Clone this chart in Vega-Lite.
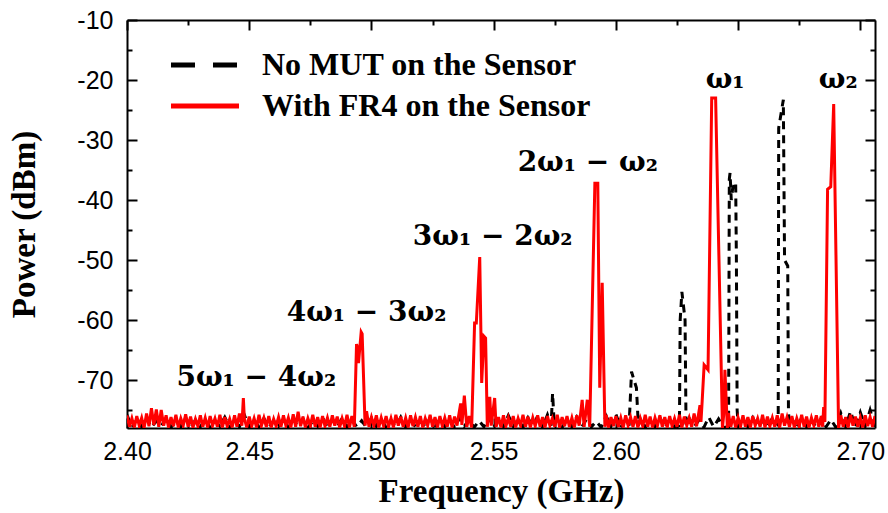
{
  "$schema": "https://vega.github.io/schema/vega-lite/v6.json",
  "width": 748,
  "height": 408,
  "autosize": {"type": "none"},
  "padding": {"left": 127, "top": 20, "right": 13, "bottom": 85},
  "background": "white",
  "config": {
    "view": {"stroke": null},
    "axis": {"domainColor": "black", "domainWidth": 2, "tickColor": "black", "tickWidth": 2, "labelFont": "Liberation Sans", "labelFontSize": 25, "labelColor": "black", "grid": false, "zindex": 1, "labelOverlap": false, "labelBound": false, "labelFlush": false, "titleFont": "Liberation Serif", "titleFontWeight": "bold", "titleFontSize": 33, "titleColor": "black"}
  },
  "datasets": {
    "mut": [
      {"f":2.400,"p":-75.8},{"f":2.402,"p":-77.9},{"f":2.404,"p":-76.6},{"f":2.406,"p":-77.8},{"f":2.408,"p":-76.2},{"f":2.410,"p":-77.9},{"f":2.412,"p":-76.8},{"f":2.414,"p":-77.7},{"f":2.416,"p":-76.4},{"f":2.418,"p":-77.9},
      {"f":2.420,"p":-76.9},{"f":2.422,"p":-77.8},{"f":2.424,"p":-76.3},{"f":2.426,"p":-77.9},{"f":2.428,"p":-76.7},{"f":2.430,"p":-77.8},{"f":2.432,"p":-76.5},{"f":2.434,"p":-77.9},{"f":2.436,"p":-76.8},{"f":2.438,"p":-77.7},
      {"f":2.440,"p":-76.2},{"f":2.442,"p":-77.9},{"f":2.444,"p":-76.6},{"f":2.446,"p":-77.8},{"f":2.448,"p":-75.8},{"f":2.450,"p":-77.9},{"f":2.452,"p":-76.7},{"f":2.454,"p":-77.8},{"f":2.456,"p":-76.4},{"f":2.458,"p":-77.9},
      {"f":2.460,"p":-76.8},{"f":2.462,"p":-77.7},{"f":2.464,"p":-76.3},{"f":2.466,"p":-77.9},{"f":2.468,"p":-76.6},{"f":2.470,"p":-77.8},{"f":2.472,"p":-76.5},{"f":2.474,"p":-77.9},{"f":2.476,"p":-76.9},{"f":2.478,"p":-77.7},
      {"f":2.480,"p":-76.2},{"f":2.482,"p":-77.9},{"f":2.484,"p":-76.7},{"f":2.486,"p":-77.8},{"f":2.488,"p":-76.4},{"f":2.490,"p":-77.9},{"f":2.492,"p":-76.6},{"f":2.494,"p":-77.8},{"f":2.496,"p":-76.8},{"f":2.498,"p":-77.9},
      {"f":2.500,"p":-76.3},{"f":2.502,"p":-77.7},{"f":2.504,"p":-76.5},{"f":2.506,"p":-77.9},{"f":2.508,"p":-76.7},{"f":2.510,"p":-77.8},{"f":2.512,"p":-76.2},{"f":2.514,"p":-77.9},{"f":2.516,"p":-76.6},{"f":2.518,"p":-77.8},
      {"f":2.520,"p":-76.9},{"f":2.522,"p":-77.7},{"f":2.524,"p":-76.4},{"f":2.526,"p":-77.9},{"f":2.528,"p":-76.5},{"f":2.530,"p":-77.8},{"f":2.532,"p":-76.7},{"f":2.534,"p":-77.9},{"f":2.536,"p":-76.3},{"f":2.538,"p":-77.7},
      {"f":2.540,"p":-76.6},{"f":2.542,"p":-77.9},{"f":2.544,"p":-76.8},{"f":2.546,"p":-77.8},{"f":2.548,"p":-76.2},{"f":2.550,"p":-77.9},{"f":2.552,"p":-76.5},{"f":2.554,"p":-77.8},{"f":2.556,"p":-75.9},{"f":2.558,"p":-77.7},
      {"f":2.560,"p":-76.6},{"f":2.562,"p":-77.9},{"f":2.564,"p":-76.3},{"f":2.566,"p":-77.8},{"f":2.568,"p":-76.0},{"f":2.570,"p":-77.9},{"f":2.572,"p":-75.8},{"f":2.5735,"p":-77.6},{"f":2.5741,"p":-72.2},{"f":2.5748,"p":-77.5},
      {"f":2.576,"p":-76.4},{"f":2.578,"p":-77.9},{"f":2.580,"p":-76.7},{"f":2.582,"p":-77.8},{"f":2.584,"p":-76.2},{"f":2.586,"p":-77.9},{"f":2.588,"p":-76.5},{"f":2.590,"p":-77.8},{"f":2.592,"p":-76.9},{"f":2.594,"p":-77.9},
      {"f":2.596,"p":-76.0},{"f":2.598,"p":-77.7},{"f":2.600,"p":-75.7},{"f":2.602,"p":-77.9},{"f":2.604,"p":-76.4},{"f":2.6054,"p":-77.6},{"f":2.6064,"p":-68.6},{"f":2.6074,"p":-70.0},{"f":2.6084,"p":-71.3},{"f":2.6092,"p":-77.6},
      {"f":2.610,"p":-76.5},{"f":2.612,"p":-77.9},{"f":2.614,"p":-76.8},{"f":2.616,"p":-77.8},{"f":2.618,"p":-76.3},{"f":2.620,"p":-77.9},{"f":2.622,"p":-76.6},{"f":2.624,"p":-77.8},
      {"f":2.6260,"p":-77.6},{"f":2.6263,"p":-60.0},{"f":2.6270,"p":-55.3},{"f":2.6283,"p":-60.0},{"f":2.6287,"p":-77.6},
      {"f":2.630,"p":-76.4},{"f":2.632,"p":-77.8},{"f":2.634,"p":-76.7},{"f":2.636,"p":-77.9},{"f":2.638,"p":-76.2},{"f":2.640,"p":-77.8},{"f":2.642,"p":-76.5},{"f":2.644,"p":-77.9},
      {"f":2.6461,"p":-77.8},{"f":2.6464,"p":-36.5},{"f":2.6467,"p":-35.5},{"f":2.6472,"p":-40.0},{"f":2.6478,"p":-38.0},{"f":2.6490,"p":-37.0},{"f":2.6493,"p":-50.0},{"f":2.6496,"p":-75.0},{"f":2.6500,"p":-77.5},
      {"f":2.652,"p":-76.6},{"f":2.654,"p":-77.8},{"f":2.656,"p":-76.3},{"f":2.658,"p":-77.9},{"f":2.660,"p":-76.8},{"f":2.662,"p":-77.7},{"f":2.664,"p":-76.4},
      {"f":2.6664,"p":-77.5},{"f":2.6666,"p":-28.0},{"f":2.6685,"p":-23.3},{"f":2.6690,"p":-50.0},{"f":2.6703,"p":-51.0},{"f":2.6706,"p":-75.0},{"f":2.6709,"p":-77.5},
      {"f":2.672,"p":-76.5},{"f":2.674,"p":-77.9},{"f":2.676,"p":-76.2},{"f":2.678,"p":-77.8},{"f":2.680,"p":-76.7},{"f":2.682,"p":-77.9},{"f":2.684,"p":-76.4},{"f":2.686,"p":-77.8},{"f":2.688,"p":-76.6},{"f":2.690,"p":-77.9},
      {"f":2.692,"p":-75.5},{"f":2.694,"p":-77.8},{"f":2.696,"p":-75.2},{"f":2.698,"p":-77.9},{"f":2.700,"p":-75.4},{"f":2.702,"p":-77.7},{"f":2.704,"p":-75.0},{"f":2.706,"p":-77.8}
    ],
    "fr4": [
      {"f":2.400,"p":-75.9},{"f":2.401,"p":-77.8},{"f":2.402,"p":-76.4},{"f":2.403,"p":-77.9},{"f":2.404,"p":-76.0},{"f":2.405,"p":-77.6},{"f":2.406,"p":-76.3},{"f":2.407,"p":-78.0},{"f":2.408,"p":-75.6},{"f":2.409,"p":-77.7},
      {"f":2.410,"p":-74.7},{"f":2.411,"p":-77.5},{"f":2.412,"p":-74.9},{"f":2.413,"p":-77.8},{"f":2.414,"p":-75.0},{"f":2.415,"p":-77.6},{"f":2.416,"p":-75.9},{"f":2.417,"p":-77.9},{"f":2.418,"p":-76.2},{"f":2.419,"p":-77.7},
      {"f":2.420,"p":-75.8},{"f":2.421,"p":-77.9},{"f":2.422,"p":-76.4},{"f":2.423,"p":-77.6},{"f":2.424,"p":-75.7},{"f":2.425,"p":-77.8},{"f":2.426,"p":-76.1},{"f":2.427,"p":-77.9},{"f":2.428,"p":-76.5},{"f":2.429,"p":-77.7},
      {"f":2.430,"p":-75.9},{"f":2.431,"p":-77.8},{"f":2.432,"p":-76.3},{"f":2.433,"p":-77.9},{"f":2.434,"p":-76.0},{"f":2.435,"p":-77.6},{"f":2.436,"p":-76.4},{"f":2.437,"p":-77.8},{"f":2.438,"p":-75.8},{"f":2.439,"p":-77.9},
      {"f":2.440,"p":-76.2},{"f":2.441,"p":-77.7},{"f":2.442,"p":-76.5},{"f":2.443,"p":-77.9},{"f":2.444,"p":-75.9},{"f":2.445,"p":-77.8},{"f":2.446,"p":-75.6},{"f":2.447,"p":-77.6},{"f":2.4476,"p":-73.0},{"f":2.448,"p":-76.4},{"f":2.449,"p":-77.9},
      {"f":2.450,"p":-76.1},{"f":2.451,"p":-77.7},{"f":2.452,"p":-76.4},{"f":2.453,"p":-77.9},{"f":2.454,"p":-75.8},{"f":2.455,"p":-77.6},{"f":2.456,"p":-76.3},{"f":2.457,"p":-77.8},{"f":2.458,"p":-76.0},{"f":2.459,"p":-77.9},
      {"f":2.460,"p":-76.5},{"f":2.461,"p":-77.7},{"f":2.462,"p":-76.2},{"f":2.463,"p":-77.8},{"f":2.464,"p":-75.9},{"f":2.465,"p":-77.6},{"f":2.466,"p":-76.3},{"f":2.467,"p":-77.9},{"f":2.468,"p":-75.7},{"f":2.469,"p":-77.8},
      {"f":2.470,"p":-75.3},{"f":2.471,"p":-77.7},{"f":2.472,"p":-76.1},{"f":2.473,"p":-77.9},{"f":2.474,"p":-76.4},{"f":2.475,"p":-77.6},{"f":2.476,"p":-75.8},{"f":2.477,"p":-77.8},{"f":2.478,"p":-76.2},{"f":2.479,"p":-77.9},
      {"f":2.480,"p":-76.0},{"f":2.481,"p":-77.7},{"f":2.482,"p":-76.3},{"f":2.483,"p":-77.8},{"f":2.484,"p":-75.9},{"f":2.485,"p":-77.6},{"f":2.486,"p":-76.1},{"f":2.487,"p":-77.9},{"f":2.488,"p":-76.4},{"f":2.489,"p":-77.7},
      {"f":2.490,"p":-75.8},{"f":2.491,"p":-77.9},{"f":2.492,"p":-76.0},{"f":2.493,"p":-77.8},
      {"f":2.4939,"p":-64.0},{"f":2.4942,"p":-64.5},{"f":2.4947,"p":-67.2},{"f":2.4958,"p":-62.0},{"f":2.4962,"p":-62.3},{"f":2.4974,"p":-77.6},
      {"f":2.498,"p":-75.2},{"f":2.499,"p":-77.8},
      {"f":2.500,"p":-76.2},{"f":2.501,"p":-77.6},{"f":2.502,"p":-75.9},{"f":2.503,"p":-77.9},{"f":2.504,"p":-76.3},{"f":2.505,"p":-77.7},{"f":2.506,"p":-76.0},{"f":2.507,"p":-77.8},{"f":2.508,"p":-76.4},{"f":2.509,"p":-77.9},
      {"f":2.510,"p":-75.8},{"f":2.511,"p":-77.6},{"f":2.512,"p":-76.1},{"f":2.513,"p":-77.8},{"f":2.514,"p":-76.3},{"f":2.515,"p":-77.9},{"f":2.516,"p":-75.9},{"f":2.517,"p":-77.7},{"f":2.518,"p":-76.2},{"f":2.519,"p":-77.8},
      {"f":2.520,"p":-76.0},{"f":2.521,"p":-77.9},{"f":2.522,"p":-76.4},{"f":2.523,"p":-77.6},{"f":2.524,"p":-75.8},{"f":2.525,"p":-77.8},{"f":2.526,"p":-76.2},{"f":2.527,"p":-77.9},{"f":2.528,"p":-76.0},{"f":2.529,"p":-77.7},
      {"f":2.530,"p":-76.3},{"f":2.531,"p":-77.8},{"f":2.532,"p":-75.9},{"f":2.533,"p":-77.9},{"f":2.534,"p":-76.1},{"f":2.535,"p":-77.6},{"f":2.5365,"p":-73.9},{"f":2.537,"p":-77.5},{"f":2.538,"p":-72.6},{"f":2.539,"p":-77.8},
      {"f":2.540,"p":-76.0},{"f":2.541,"p":-77.9},
      {"f":2.5422,"p":-60.5},{"f":2.5429,"p":-60.5},{"f":2.5443,"p":-49.5},{"f":2.5451,"p":-70.5},{"f":2.5460,"p":-62.7},{"f":2.5467,"p":-63.0},{"f":2.5474,"p":-77.8},
      {"f":2.5484,"p":-72.8},{"f":2.549,"p":-77.6},{"f":2.5504,"p":-73.0},{"f":2.551,"p":-77.8},
      {"f":2.552,"p":-76.2},{"f":2.553,"p":-77.9},{"f":2.554,"p":-75.9},{"f":2.555,"p":-77.7},{"f":2.556,"p":-76.3},{"f":2.557,"p":-77.8},{"f":2.558,"p":-76.0},{"f":2.559,"p":-77.9},
      {"f":2.560,"p":-76.4},{"f":2.561,"p":-77.6},{"f":2.562,"p":-75.8},{"f":2.563,"p":-77.8},{"f":2.564,"p":-76.1},{"f":2.565,"p":-77.9},{"f":2.566,"p":-76.3},{"f":2.567,"p":-77.7},{"f":2.568,"p":-75.9},{"f":2.569,"p":-77.8},
      {"f":2.570,"p":-76.2},{"f":2.571,"p":-77.9},{"f":2.572,"p":-76.0},{"f":2.573,"p":-77.6},{"f":2.574,"p":-76.4},{"f":2.575,"p":-77.8},{"f":2.576,"p":-75.8},{"f":2.577,"p":-77.9},{"f":2.578,"p":-76.2},{"f":2.579,"p":-77.7},
      {"f":2.580,"p":-76.0},{"f":2.581,"p":-77.8},{"f":2.582,"p":-76.3},{"f":2.583,"p":-77.9},{"f":2.584,"p":-75.9},{"f":2.585,"p":-77.6},{"f":2.5862,"p":-73.3},{"f":2.587,"p":-77.8},{"f":2.5883,"p":-73.3},{"f":2.5893,"p":-77.8},
      {"f":2.5914,"p":-37.2},{"f":2.5926,"p":-37.2},{"f":2.5934,"p":-71.3},{"f":2.5944,"p":-53.8},{"f":2.5955,"p":-77.8},
      {"f":2.596,"p":-75.8},{"f":2.597,"p":-77.9},{"f":2.598,"p":-76.2},{"f":2.599,"p":-77.7},
      {"f":2.600,"p":-76.0},{"f":2.601,"p":-77.8},{"f":2.602,"p":-76.3},{"f":2.603,"p":-77.9},{"f":2.604,"p":-75.9},{"f":2.605,"p":-77.6},{"f":2.606,"p":-76.2},{"f":2.607,"p":-77.8},{"f":2.608,"p":-76.0},{"f":2.609,"p":-77.9},
      {"f":2.610,"p":-76.4},{"f":2.611,"p":-77.7},{"f":2.612,"p":-75.8},{"f":2.613,"p":-77.8},{"f":2.614,"p":-76.1},{"f":2.615,"p":-77.9},{"f":2.616,"p":-76.3},{"f":2.617,"p":-77.6},{"f":2.618,"p":-75.9},{"f":2.619,"p":-77.8},
      {"f":2.620,"p":-76.2},{"f":2.621,"p":-77.9},{"f":2.622,"p":-76.0},{"f":2.623,"p":-77.7},{"f":2.624,"p":-76.4},{"f":2.625,"p":-77.8},{"f":2.626,"p":-75.8},{"f":2.627,"p":-77.9},{"f":2.628,"p":-76.1},{"f":2.629,"p":-77.6},
      {"f":2.630,"p":-76.3},{"f":2.631,"p":-77.8},{"f":2.632,"p":-75.6},{"f":2.633,"p":-77.7},
      {"f":2.6344,"p":-74.2},{"f":2.6348,"p":-77.0},{"f":2.6353,"p":-73.5},{"f":2.6361,"p":-67.5},{"f":2.6377,"p":-68.3},{"f":2.6392,"p":-23.0},{"f":2.6408,"p":-23.0},{"f":2.6436,"p":-78.0},{"f":2.6441,"p":-75.8},{"f":2.6446,"p":-68.3},{"f":2.6456,"p":-78.0},
      {"f":2.646,"p":-75.5},{"f":2.647,"p":-77.8},{"f":2.648,"p":-76.0},{"f":2.649,"p":-77.9},
      {"f":2.650,"p":-76.3},{"f":2.651,"p":-77.7},{"f":2.652,"p":-75.9},{"f":2.653,"p":-77.8},{"f":2.654,"p":-76.2},{"f":2.655,"p":-77.9},{"f":2.656,"p":-76.0},{"f":2.657,"p":-77.6},{"f":2.658,"p":-76.4},{"f":2.659,"p":-77.8},
      {"f":2.660,"p":-75.8},{"f":2.661,"p":-77.9},{"f":2.662,"p":-76.1},{"f":2.663,"p":-77.7},{"f":2.664,"p":-76.3},{"f":2.665,"p":-77.8},{"f":2.666,"p":-75.9},{"f":2.667,"p":-77.9},{"f":2.668,"p":-75.6},{"f":2.669,"p":-77.6},
      {"f":2.670,"p":-76.2},{"f":2.671,"p":-77.8},{"f":2.672,"p":-76.0},{"f":2.673,"p":-77.9},{"f":2.674,"p":-76.4},{"f":2.675,"p":-77.7},{"f":2.676,"p":-75.8},{"f":2.677,"p":-77.8},{"f":2.678,"p":-76.1},{"f":2.679,"p":-77.9},
      {"f":2.680,"p":-76.3},{"f":2.681,"p":-77.6},{"f":2.682,"p":-75.9},{"f":2.683,"p":-77.8},{"f":2.684,"p":-76.0},{"f":2.6846,"p":-77.8},{"f":2.6850,"p":-74.5},{"f":2.6855,"p":-77.0},
      {"f":2.6866,"p":-38.2},{"f":2.6879,"p":-37.8},{"f":2.6891,"p":-24.0},{"f":2.6911,"p":-78.0},
      {"f":2.692,"p":-75.9},{"f":2.693,"p":-77.8},{"f":2.694,"p":-76.2},{"f":2.695,"p":-77.9},{"f":2.696,"p":-75.8},{"f":2.697,"p":-77.6},{"f":2.698,"p":-76.1},{"f":2.699,"p":-77.8},
      {"f":2.700,"p":-76.3},{"f":2.701,"p":-77.9},{"f":2.702,"p":-75.9},{"f":2.703,"p":-77.7},{"f":2.704,"p":-76.2},{"f":2.705,"p":-77.8},{"f":2.706,"p":-76.0}
    ],
    "ann": [
      {"f":2.6447,"p":-20.0,"t":"ω₁"},
      {"f":2.6910,"p":-20.0,"t":"ω₂"},
      {"f":2.5885,"p":-33.8,"t":"2ω₁ − ω₂"},
      {"f":2.5496,"p":-46.2,"t":"3ω₁ − 2ω₂"},
      {"f":2.4980,"p":-58.8,"t":"4ω₁ − 3ω₂"},
      {"f":2.4529,"p":-69.7,"t":"5ω₁ − 4ω₂"}
    ]
  },
  "layer": [
    {
      "data": {"name": "mut"},
      "mark": {"type": "line", "strokeWidth": 3, "strokeDash": [8, 6], "clip": true},
      "encoding": {
        "x": {"field": "f", "type": "quantitative", "scale": {"domain": [2.4, 2.706], "nice": false, "zero": false},
          "axis": {"orient": "bottom", "values": [2.4,2.425,2.45,2.475,2.5,2.525,2.55,2.575,2.6,2.625,2.65,2.675,2.7],
            "labelExpr": "round(datum.value*1000)%50===0 ? format(datum.value,'.2f') : ''",
            "tickSize": {"condition": {"test": "round(datum.value*1000)%50===0", "value": -10}, "value": -5},
            "labelPadding": 21, "labelBaseline": "top", "title": "Frequency (GHz)", "titlePadding": 6}},
        "y": {"field": "p", "type": "quantitative", "scale": {"domain": [-78, -10], "nice": false, "zero": false},
          "axis": {"orient": "left", "values": [-75,-70,-65,-60,-55,-50,-45,-40,-35,-30,-25,-20,-15,-10],
            "labelExpr": "datum.value % 10 === 0 ? '' + datum.value : ''",
            "tickSize": {"condition": {"test": "datum.value % 10 === 0", "value": -10}, "value": -5},
            "labelPadding": 24, "title": "Power (dBm)", "titlePadding": 35}},
        "color": {"datum": "No MUT on the Sensor", "scale": {"domain": ["No MUT on the Sensor", "With FR4 on the Sensor"], "range": ["#000000", "#ff0000"]},
          "legend": {"orient": "none", "legendX": 62, "legendY": 29, "title": null, "symbolType": "M-3,0H3", "symbolSize": 514, "symbolStrokeWidth": 5,
            "labelFont": "Liberation Serif", "labelFontWeight": "bold", "labelFontSize": 32, "labelColor": "black", "labelLimit": 600, "labelOffset": 41, "rowPadding": 9,
            "encode": {"symbols": {"update": {"strokeDash": {"signal": "datum.value === 'No MUT on the Sensor' ? [24,18] : [1,0]"}}}}}}
      }
    },
    {
      "data": {"name": "fr4"},
      "mark": {"type": "line", "strokeWidth": 3, "clip": true},
      "encoding": {
        "x": {"field": "f", "type": "quantitative",
          "axis": {"orient": "top", "values": [2.4,2.425,2.45,2.475,2.5,2.525,2.55,2.575,2.6,2.625,2.65,2.675,2.7], "labels": false, "title": null,
            "tickSize": {"condition": {"test": "round(datum.value*1000)%50===0", "value": -10}, "value": -5}}},
        "y": {"field": "p", "type": "quantitative",
          "axis": {"orient": "right", "values": [-75,-70,-65,-60,-55,-50,-45,-40,-35,-30,-25,-20,-15,-10], "labels": false, "title": null,
            "tickSize": {"condition": {"test": "datum.value % 10 === 0", "value": -10}, "value": -5}}},
        "color": {"datum": "With FR4 on the Sensor"}
      }
    },
    {
      "data": {"name": "ann"},
      "mark": {"type": "text", "font": "DejaVu Serif", "fontWeight": "bold", "fontSize": 28, "align": "center", "baseline": "middle", "color": "black"},
      "encoding": {
        "x": {"field": "f", "type": "quantitative", "axis": null},
        "y": {"field": "p", "type": "quantitative", "axis": null},
        "text": {"field": "t"}
      }
    }
  ],
  "resolve": {"axis": {"x": "independent", "y": "independent"}}
}
